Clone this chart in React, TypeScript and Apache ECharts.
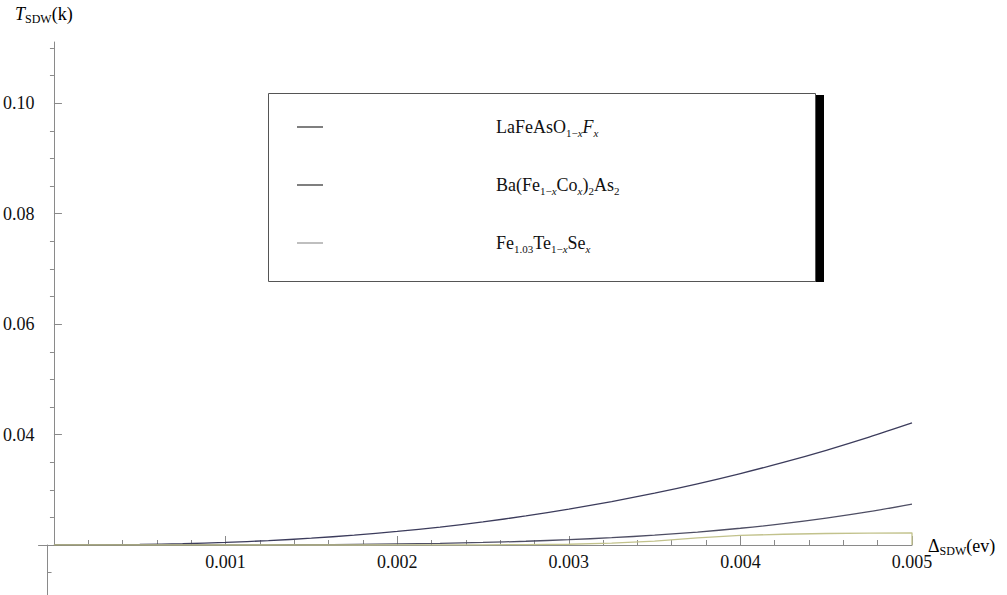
import React, { useEffect, useRef } from "react";
import * as echarts from "echarts";

// Δ_SDW (eV) sample positions
const deltaSDW = [
  0, 0.00025, 0.0005, 0.00075, 0.001, 0.00125, 0.0015, 0.00175, 0.002, 0.00225,
  0.0025, 0.00275, 0.003, 0.00325, 0.0035, 0.00375, 0.004, 0.00425, 0.0045, 0.00475, 0.005,
];
// T_SDW values
const laFeAsO = [
  0.02, 0.02002, 0.02009, 0.02023, 0.02047, 0.02079, 0.02123, 0.02178, 0.02245, 0.02325,
  0.02419, 0.02526, 0.02649, 0.02786, 0.02939, 0.03108, 0.03294, 0.03496, 0.03716, 0.03954, 0.0421,
];
const baFeCo = [
  0.02, 0.02, 0.02, 0.02, 0.02001, 0.02003, 0.02006, 0.02011, 0.02019, 0.0203,
  0.02046, 0.02068, 0.02096, 0.02132, 0.02178, 0.02234, 0.02303, 0.02386, 0.02486, 0.02603, 0.0274,
];
const feTeSeX = [...deltaSDW, 0.005];
const feTeSe = [
  0.02, 0.02, 0.02, 0.02, 0.02, 0.02, 0.02, 0.02, 0.02001, 0.02002,
  0.02004, 0.02008, 0.02014, 0.02035, 0.0207, 0.0213, 0.02175, 0.02195, 0.02208, 0.02215, 0.0222, 0.02,
];

const seriesNames = ["LaFeAsO1−xFx", "Ba(Fe1−xCox)2As2", "Fe1.03Te1−xSex"];
const legendLabels: Record<string, string> = {
  "LaFeAsO1−xFx": "{sp|}{n|LaFeAsO}{s|1−}{si|x}{i|F}{si|x}",
  "Ba(Fe1−xCox)2As2": "{sp|}{n|Ba(Fe}{s|1−}{si|x}{n|Co}{si|x}{n|)}{s|2}{n|As}{s|2}",
  "Fe1.03Te1−xSex": "{sp|}{n|Fe}{s|1.03}{n|Te}{s|1−}{si|x}{n|Se}{si|x}",
};

const xMajorTicks = [0.001, 0.002, 0.003, 0.004, 0.005];
const xMinorTicks = [
  0.0002, 0.0004, 0.0006, 0.0008, 0.0012, 0.0014, 0.0016, 0.0018, 0.0022, 0.0024, 0.0026, 0.0028,
  0.0032, 0.0034, 0.0036, 0.0038, 0.0042, 0.0044, 0.0046, 0.0048,
];
const yMajorTicks = [0.04, 0.06, 0.08, 0.1];
const yMinorTicks = [
  0.025, 0.03, 0.035, 0.045, 0.05, 0.055, 0.065, 0.07, 0.075, 0.085, 0.09, 0.095, 0.105, 0.11,
];
const yLowerTicks = [0.015];

const SERIF = "Liberation Serif";
const AXIS = "#8a8a8a";
const TXT = "#111";
const lineColors = ["#3c3c5c", "#4e4e64", "#c2c28c"];
const legendIconColors = ["#555", "#555", "#aaa"];

export default function App() {
  const ref = useRef<HTMLDivElement>(null);
  useEffect(() => {
    document.body.style.margin = "0";
    const chart = echarts.init(ref.current!, undefined, { renderer: "svg" });
    const sub = { fontSize: 11, fontFamily: SERIF, color: TXT, verticalAlign: "bottom", lineHeight: 12 };
    const legendRich = {
      sp: { width: 168 },
      n: { fontSize: 18, fontFamily: SERIF, color: TXT, lineHeight: 22 },
      i: { fontSize: 18, fontFamily: SERIF, color: TXT, lineHeight: 22, fontStyle: "italic" },
      s: sub,
      si: { ...sub, fontStyle: "italic" },
    };
    const titleRich = {
      ti: { fontSize: 18, fontFamily: SERIF, color: TXT, fontStyle: "italic", lineHeight: 22 },
      d: { fontSize: 18, fontFamily: SERIF, color: TXT, lineHeight: 22 },
      n: { fontSize: 18, fontFamily: SERIF, color: TXT, lineHeight: 22 },
      sc: { fontSize: 12, fontFamily: SERIF, color: TXT, verticalAlign: "bottom", lineHeight: 13 },
    };
    const tickRich = { v: { fontFamily: SERIF, fontSize: 18, color: TXT, lineHeight: 20 } };
    const xMin = -0.00009;
    const xMax = 0.005;
    chart.setOption({
      animation: false,
      backgroundColor: "#fff",
      textStyle: { fontFamily: SERIF },
      grid: [
        { left: 32, right: 95, top: 42, height: 503 },
        { left: 32, right: 95, top: 545, height: 50 },
      ],
      xAxis: [
        {
          type: "value", gridIndex: 0, min: xMin, max: xMax, position: "bottom",
          axisLine: { onZero: false, lineStyle: { color: AXIS, width: 1 } },
          axisTick: { inside: true, length: 9, customValues: xMajorTicks, lineStyle: { color: AXIS } },
          axisLabel: {
            customValues: xMajorTicks, margin: 7, fontFamily: SERIF, fontSize: 18, color: TXT, rich: tickRich,
            formatter: (v: number) => `{v|${v.toFixed(3)}}`,
          },
          splitLine: { show: false },
        },
        {
          type: "value", gridIndex: 0, min: xMin, max: xMax, position: "bottom",
          axisLine: { show: false, onZero: false },
          axisTick: { inside: true, length: 5, customValues: xMinorTicks, lineStyle: { color: AXIS } },
          axisLabel: { show: false },
          splitLine: { show: false },
        },
        {
          type: "value", gridIndex: 1, min: xMin, max: xMax, show: false,
          axisLine: { onZero: false },
          splitLine: { show: false },
        },
      ],
      yAxis: [
        {
          type: "value", gridIndex: 0, min: 0.02, max: 0.1111,
          axisLine: { show: true, onZero: true, onZeroAxisIndex: 0, lineStyle: { color: AXIS, width: 1 } },
          axisTick: { show: true, inside: true, length: 8, customValues: yMajorTicks, lineStyle: { color: AXIS } },
          axisLabel: {
            customValues: yMajorTicks, margin: 4, fontFamily: SERIF, fontSize: 18, color: TXT, rich: tickRich,
            formatter: (v: number) => `{v|${v.toFixed(2)}}`,
          },
          splitLine: { show: false },
        },
        {
          type: "value", gridIndex: 0, min: 0.02, max: 0.1111,
          axisLine: { show: false, onZero: true, onZeroAxisIndex: 0 },
          axisTick: { show: true, inside: true, length: 4, customValues: yMinorTicks, lineStyle: { color: AXIS } },
          axisLabel: { show: false },
          splitLine: { show: false },
        },
        {
          type: "value", gridIndex: 1, min: 0.0109, max: 0.02,
          axisLine: { show: true, onZero: true, onZeroAxisIndex: 2, lineStyle: { color: AXIS, width: 1 } },
          axisTick: { show: true, inside: true, length: 4, customValues: yLowerTicks, lineStyle: { color: AXIS } },
          axisLabel: { show: false },
          splitLine: { show: false },
        },
      ],
      legend: {
        left: 297, top: 118, orient: "vertical", padding: 0, itemGap: 38,
        icon: "rect", itemWidth: 26, itemHeight: 1.5, selectedMode: false, z: 10,
        data: seriesNames.map((name, i) => ({ name, itemStyle: { color: legendIconColors[i] } })),
        formatter: (name: string) => legendLabels[name],
        textStyle: { rich: legendRich },
      },
      graphic: [
        { type: "rect", z: 1, shape: { x: 815, y: 95, width: 9, height: 187 }, style: { fill: "#000" } },
        {
          type: "rect", z: 2, shape: { x: 268.5, y: 93.5, width: 547, height: 188 },
          style: { fill: "#fff", stroke: "#555", lineWidth: 1 },
        },
        { type: "text", z: 3, x: 15, y: 3, style: { text: "{ti|T}{sc|SDW}{n|(k)}", rich: titleRich } },
        { type: "text", z: 3, x: 928, y: 535, style: { text: "{d|Δ}{sc|SDW}{n|(ev)}", rich: titleRich } },
      ],
      series: [
        {
          name: seriesNames[0], type: "line", xAxisIndex: 0, yAxisIndex: 0, showSymbol: false, smooth: 0.3,
          lineStyle: { color: lineColors[0], width: 1.3 }, itemStyle: { color: lineColors[0] },
          data: deltaSDW.map((x, i) => [x, laFeAsO[i]]),
        },
        {
          name: seriesNames[1], type: "line", xAxisIndex: 0, yAxisIndex: 0, showSymbol: false, smooth: 0.3,
          lineStyle: { color: lineColors[1], width: 1.3 }, itemStyle: { color: lineColors[1] },
          data: deltaSDW.map((x, i) => [x, baFeCo[i]]),
        },
        {
          name: seriesNames[2], type: "line", xAxisIndex: 0, yAxisIndex: 0, showSymbol: false,
          lineStyle: { color: lineColors[2], width: 1.3 }, itemStyle: { color: lineColors[2] },
          data: feTeSeX.map((x, i) => [x, feTeSe[i]]),
        },
      ],
    });
    return () => chart.dispose();
  }, []);
  return <div ref={ref} style={{ width: 1007, height: 595 }} />;
}
